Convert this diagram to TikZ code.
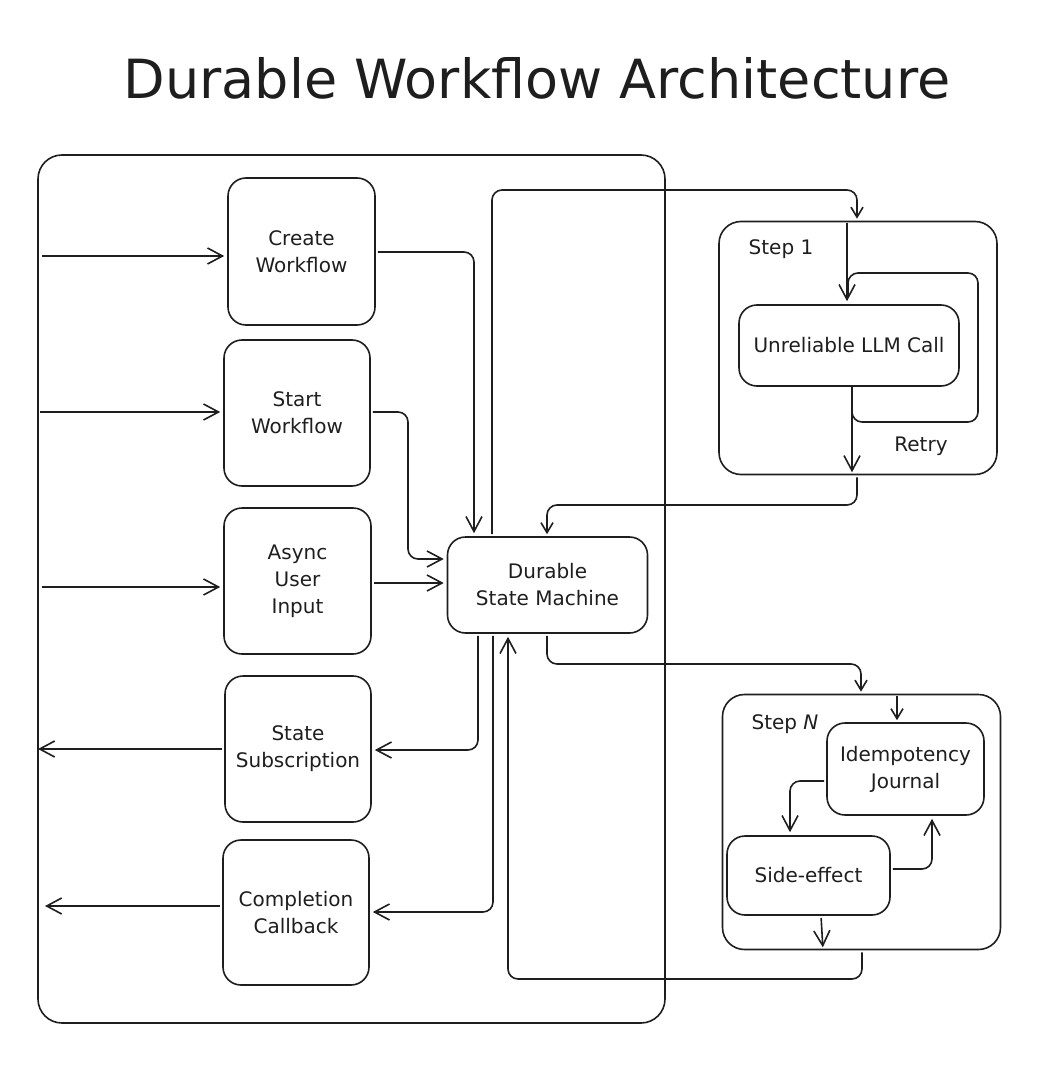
\documentclass[tikz,border=0pt]{standalone}
\usepackage{fontspec}
\setmainfont{DejaVu Sans}
\usetikzlibrary{arrows.meta}
\definecolor{ink}{HTML}{1E1E1E}
\begin{document}
\begin{tikzpicture}[x=1pt,y=-1pt,line width=1.6pt,draw=ink,text=ink,
  box/.style={draw,rounded corners=18,align=center,inner sep=0pt,
    font=\fontsize{20}{27}\selectfont},
  frame/.style={draw,rounded corners=22,inner sep=0pt},
  lbl/.style={font=\fontsize{20}{27}\selectfont,inner sep=0pt},
  arr/.style={draw,-{Straight Barb[length=15pt,width=16pt]},rounded corners=10,shorten >=3pt,shorten <=2pt},
  sarr/.style={draw,-{Straight Barb[length=10pt,width=12pt]},rounded corners=10,shorten >=2pt,shorten <=2pt},
  plain/.style={draw,rounded corners=10}]
\useasboundingbox (0,0) rectangle (1047,1075);

\node[font=\fontsize{54}{60}\selectfont,inner sep=0pt] (title) at (537,78) {Durable Workflow Architecture};

% outer container
\node[frame,rounded corners=24,minimum width=627,minimum height=868] (main) at (351.5,589) {};

% left column
\node[box,minimum width=147,minimum height=147] (cw) at (301.5,251.5) {Create\\Workflow};
\node[box,minimum width=146,minimum height=146] (sw) at (297,413) {Start\\Workflow};
\node[box,minimum width=147,minimum height=146] (au) at (297.5,581) {Async\\User\\Input};
\node[box,minimum width=146,minimum height=146] (ss) at (298,749) {State\\Subscription};
\node[box,minimum width=146,minimum height=145] (cc) at (296,912.5) {Completion\\Callback};

% state machine
\node[box,minimum width=200,minimum height=96] (dsm) at (547.5,585) {Durable\\State Machine};

% step 1
\node[frame,minimum width=278,minimum height=253] (s1) at (858,348) {};
\node[lbl] (s1l) at (781,249) {Step 1};
\node[box,minimum width=220,minimum height=81] (llm) at (849,345.5) {Unreliable LLM Call};
\node[lbl] (retry) at (921,446) {Retry};

% step N
\node[frame,minimum width=278,minimum height=255] (sn) at (861.5,822) {};
\node[lbl] (snl) at (785,724) {Step \textit{N}};
\node[box,minimum width=157,minimum height=92] (ij) at (905.5,769) {Idempotency\\Journal};
\node[box,minimum width=163,minimum height=79] (se) at (808.5,875.5) {Side-effect};

% free ends on the left
\coordinate (in1) at (40,256);
\coordinate (in2) at (38,412);
\coordinate (in3) at (40,587);
\coordinate (out1) at (35,749);
\coordinate (out2) at (42,906);

\draw[arr] (in1) -- (cw.west |- in1);
\draw[arr] (in2) -- (sw.west |- in2);
\draw[arr] (in3) -- (au.west |- in3);
\draw[arr] (ss.west |- out1) -- (out1);
\draw[arr] (cc.west |- out2) -- (out2);

% into state machine
\draw[arr] (cw.east |- 0,252) -| (dsm.north -| 474,0);
\draw[arr] (sw.east |- 0,412) -| (408,559) -- (dsm.west |- 0,559);
\draw[arr] (au.east |- 0,583) -- (dsm.west |- 0,583);

% state machine out to subscriptions
\draw[arr] (dsm.south -| 478,0) |- (ss.east |- 0,750);
\draw[arr] (dsm.south -| 493,0) |- (cc.east |- 0,912);

% to step 1 and back
\draw[sarr] (dsm.north -| 492,0) |- (857,190) -- (s1.north -| 857,0);
\draw[arr] (s1.north -| 847,0) -- (llm.north -| 847,0);
\draw[plain] (llm.south -| 852,0) |- (978,422) |- (848,273) -- (848,296);
\draw[arr] (llm.south -| 852,0) -- (s1.south -| 852,0);
\draw[sarr] (s1.south -| 857,0) |- (547,505) -- (dsm.north -| 547,0);

% to step N and back
\draw[sarr] (dsm.south -| 547,0) |- (861,664) -- (sn.north -| 861,0);
\draw[sarr] (sn.north -| 897,0) -- (ij.north -| 897,0);
\draw[arr] (ij.west |- 0,781) -| (se.north -| 790,0);
\draw[arr] (se.east |- 0,869) -| (ij.south -| 932,0);
\draw[arr] (se.south -| 821,0) -- (sn.south -| 823,0);
\draw[arr] (sn.south -| 862,0) |- (508,979) -- (dsm.south -| 508,0);
\end{tikzpicture}
\end{document}
